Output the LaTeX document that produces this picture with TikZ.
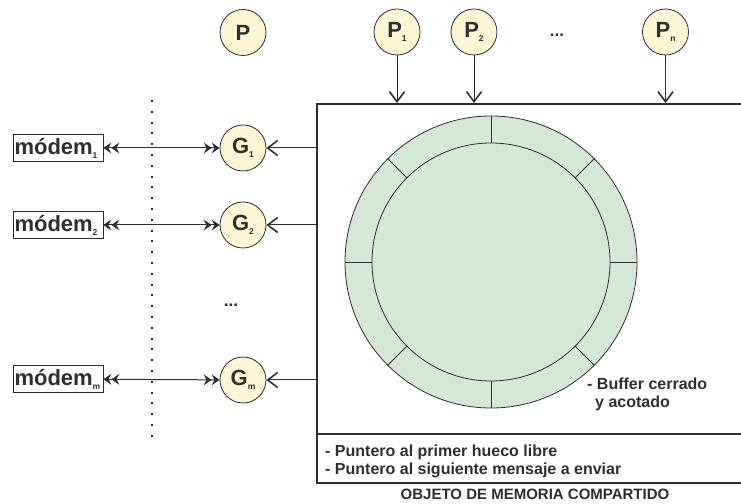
\documentclass[tikz,border=0pt]{standalone}
\usepackage{fontspec}
\setmainfont{Liberation Sans}
\usetikzlibrary{arrows.meta}

\definecolor{procfill}{HTML}{FDF6D4}
\definecolor{ringfill}{HTML}{D5E8D7}
\definecolor{inkgray}{HTML}{2E2E2E}

\newcommand{\lowidx}[1]{\raisebox{-4pt}{\fontsize{8.5}{9}\selectfont #1}}

\begin{document}
\begin{tikzpicture}[x=1pt, y=1pt,
    proc/.style={circle, draw=inkgray, fill=procfill, line width=0.8pt, minimum size=46pt, inner sep=0pt, text=inkgray, font=\fontsize{22}{24}\selectfont\bfseries},
    modembox/.style={draw=inkgray, line width=0.8pt, text width=87pt, inner xsep=1.5pt, inner ysep=0pt, minimum height=27pt, align=left, text=inkgray, font=\fontsize{22}{24}\selectfont\bfseries},
    feed/.style={draw=inkgray, line width=1pt, -{Straight Barb[length=10pt,width=15pt,line width=1.6pt]}},
    link/.style={draw=inkgray, line width=1pt, {Stealth[length=8pt,width=11pt,inset=3pt]Stealth[length=8pt,width=11pt,inset=3pt]}-{Stealth[length=8pt,width=11pt,inset=3pt]Stealth[length=8pt,width=11pt,inset=3pt]}},
    note/.style={inner sep=0pt, align=left, text=inkgray, font=\fontsize{16}{18}\selectfont\bfseries},
    dotsty/.style={inner sep=0pt, text=inkgray, font=\fontsize{17}{18}\selectfont\bfseries}
]

    \useasboundingbox (0,0) rectangle (741,503);

    % processes
    \node (p)  at (243, 470.5) [proc] {P};
    \node (p1) at (397, 471) [proc] {P\lowidx{1}};
    \node (p2) at (474, 471) [proc] {P\lowidx{2}};
    \node (pdots) at (557, 466) [dotsty, anchor=base] {...};
    \node (pn) at (665.5, 471) [proc] {P\lowidx{n}};

    % shared memory object
    \node (mem) at (316, 400) [anchor=north west, draw=inkgray, line width=2pt, minimum width=450pt, minimum height=379pt, inner sep=0pt] {};
    \coordinate (sepl) at (316, 69);
    \coordinate (sepr) at (770, 69);
    \draw[draw=inkgray, line width=1.2pt] (sepl) -- (sepr);

    \coordinate (ring) at (491, 241);
    \fill[ringfill] (ring) circle (146);
    \draw[draw=inkgray, line width=0.8pt] (ring) circle (146);
    \draw[draw=inkgray, line width=0.8pt] (ring) circle (119);
    \foreach \a in {0,45,...,315}
        \draw[draw=inkgray, line width=0.8pt] ([shift={(\a:119)}]ring) -- ([shift={(\a:146)}]ring);

    \draw[feed] (p1) -- (p1 |- mem.north);
    \draw[feed] (p2) -- (p2 |- mem.north);
    \draw[feed] (pn) -- (pn |- mem.north);

    % gateways
    \node (g1) at (243, 355) [proc] {G\lowidx{1}};
    \node (g2) at (243, 278) [proc] {G\lowidx{2}};
    \node (gdots) at (231, 196) [dotsty, anchor=base] {...};
    \node (gm) at (243, 123) [proc] {G\lowidx{m}};

    \draw[feed] (mem.west |- g1) -- (g1);
    \draw[feed] (mem.west |- g2) -- (g2);
    \draw[feed] (mem.west |- gm) -- (gm);

    % modems
    \node (m1) at (58, 355) [modembox] {m\'odem\lowidx{1}};
    \node (m2) at (58, 278) [modembox] {m\'odem\lowidx{2}};
    \node (mm) at (58, 124) [modembox] {m\'odem\lowidx{m}};

    \draw[link] (m1) -- (g1);
    \draw[link] (m2) -- (g2);
    \draw[link] (mm) -- (gm);

    \coordinate (dtop) at (152, 403);
    \coordinate (dbot) at (152, 59);
    \draw[draw=inkgray, line width=2pt, dash pattern=on 2pt off 8.8pt] (dtop) -- (dbot);

    \node (buf) at (587, 109) [note, anchor=west] {- Buffer cerrado\\\hspace*{8pt}y acotado};
    \node (ptrs) at (325, 42) [note, anchor=west] {- Puntero al primer hueco libre\\- Puntero al siguiente mensaje a enviar};
    \node (title) at (535, 8.5) [inner sep=0pt, text=inkgray, font=\fontsize{15}{16}\selectfont\bfseries] {OBJETO DE MEMORIA COMPARTIDO};

\end{tikzpicture}
\end{document}
